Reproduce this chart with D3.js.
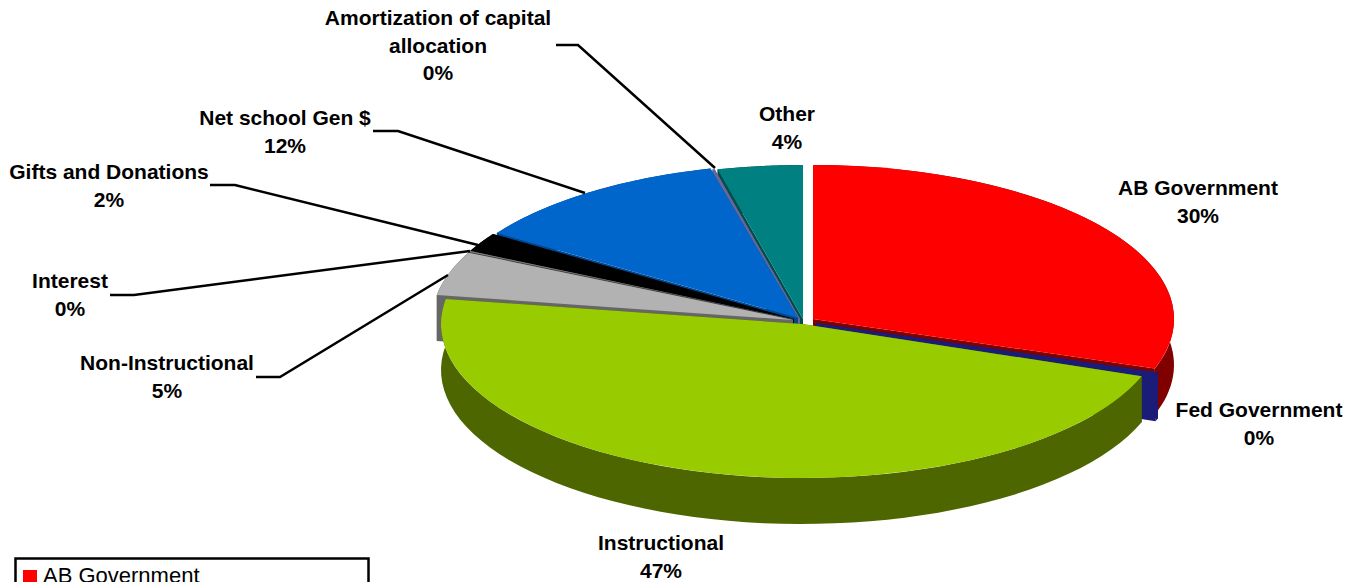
<!DOCTYPE html>
<html>
<head>
<meta charset="utf-8">
<title>Revenue pie</title>
<script src="https://cdn.jsdelivr.net/npm/d3@7"></script>
<style>
  html, body { margin: 0; padding: 0; background: #fff; overflow: hidden; }
  svg { display: block; }
  text { font-family: "Liberation Sans", Arial, sans-serif; }
</style>
</head>
<body>
<div id="myDiv"></div>
<script>
// values (percent of total)
const categories = ["AB Government", "Fed Government", "Instructional", "Non-Instructional", "Interest",
  "Gifts and Donations", "Net school Gen $", "Amortization of capital allocation", "Other"];
const shares = [30.2, 0.3, 47.1, 4.6, 0.1, 2.0, 11.8, 0.1, 3.8];
const topColours = ["#ff0000", "#1b1b78", "#99cc00", "#b2b2b2", "#808080", "#000000", "#0066cc", "#666699", "#008080"];
const sideColours = ["#800000", "#1b1b78", "#4d6600", "#666666", "#404040", "#000000", "#00478f", "#666699", "#004d4d"];

const width = 1352, height = 582;
const rx = 361, ry = 154, depth = 46;

// where each exploded slice has its apex
const apexes = [[813, 319], [816, 323], [802, 324], [793, 320], [793, 319], [794, 319], [798, 318], [800, 319], [803, 319]];
// back slices first, the front ones paint over them
const paintOrder = [8, 7, 6, 5, 4, 3, 0, 1, 2];

// label text lines and where they go: centre x, first baseline
const labelLines = [["AB Government"], ["Fed Government"], ["Instructional"], ["Non-Instructional"], ["Interest"],
  ["Gifts and Donations"], ["Net school Gen $"], ["Amortization of capital", "allocation"], ["Other"]];
const labelSpots = [[1198, 195], [1259, 417], [661, 550], [167, 370], [70, 288], [109, 179], [285, 125], [438, 25], [787, 121]];
const leaders = [
  [[256, 377], [280, 377], [448, 275]],
  [[110, 295], [134, 295], [470, 251]],
  [[210, 185], [235, 185], [478, 245]],
  [[373, 131], [398, 131], [585, 193]],
  [[556, 45], [578, 45], [715, 168]]
];

let svg = d3.select("#myDiv").append("svg")
  .attr("width", width)
  .attr("height", height);

let pie = d3.pie().sort(null).value(function (d) { return d; });
let arcs = pie(shares);

// unit circle to flat ellipse, so the walls and the top faces agree
let xUnit = d3.scaleLinear().domain([0, 1]).range([0, rx]);
let yUnit = d3.scaleLinear().domain([0, 1]).range([0, -ry]);
let linePath = d3.line();
let topArc = d3.arc().innerRadius(0).outerRadius(ry);

function rim(a, apex, drop) {
  return [apex[0] + xUnit(Math.sin(a)), apex[1] + yUnit(Math.cos(a)) + drop];
}

paintOrder.forEach(function (i) {
  let d = arcs[i];
  let apex = apexes[i];
  let g = svg.append("g");

  // the two cut faces
  [d.startAngle, d.endAngle].forEach(function (a) {
    g.append("path")
      .attr("d", linePath([apex, rim(a, apex, 0), rim(a, apex, depth), [apex[0], apex[1] + depth]]) + "Z")
      .attr("fill", sideColours[i]);
  });

  // outer wall
  let steps = d3.range(0, 61).map(function (k) {
    return d.startAngle + (d.endAngle - d.startAngle) * k / 60;
  });
  let wall = steps.map(function (a) { return rim(a, apex, 0); })
    .concat(steps.slice().reverse().map(function (a) { return rim(a, apex, depth); }));
  g.append("path")
    .attr("d", linePath(wall) + "Z")
    .attr("fill", sideColours[i]);

  // top face
  g.append("path")
    .attr("d", topArc(d))
    .attr("transform", "translate(" + apex[0] + "," + apex[1] + ") scale(" + (rx / ry) + ",1)")
    .attr("fill", topColours[i]);
});

// leader lines
svg.selectAll("path.leader").data(leaders).enter().append("path")
  .attr("class", "leader")
  .attr("d", function (d) { return linePath(d); })
  .attr("fill", "none")
  .attr("stroke", "#000")
  .attr("stroke-width", 2.5);

// value labels
categories.forEach(function (c, i) {
  let lines = labelLines[i].concat([Math.round(shares[i]) + "%"]);
  svg.append("g").selectAll("text").data(lines).enter().append("text")
    .attr("x", labelSpots[i][0])
    .attr("y", function (d, k) { return labelSpots[i][1] + k * 27.6; })
    .attr("text-anchor", "middle")
    .attr("font-size", "21px")
    .attr("font-weight", "bold")
    .attr("fill", "#000")
    .text(function (d) { return d; });
});

// legend box, the window cuts it off after the first row
svg.append("rect")
  .attr("x", 15.5).attr("y", 558.5)
  .attr("width", 353).attr("height", 60)
  .attr("fill", "#fff")
  .attr("stroke", "#000")
  .attr("stroke-width", 2.5);
svg.append("rect")
  .attr("x", 23).attr("y", 570)
  .attr("width", 14).attr("height", 14)
  .attr("fill", topColours[0]);
svg.append("text")
  .attr("x", 43).attr("y", 583)
  .attr("font-size", "22px")
  .attr("fill", "#000")
  .text(categories[0]);
</script>
</body>
</html>
